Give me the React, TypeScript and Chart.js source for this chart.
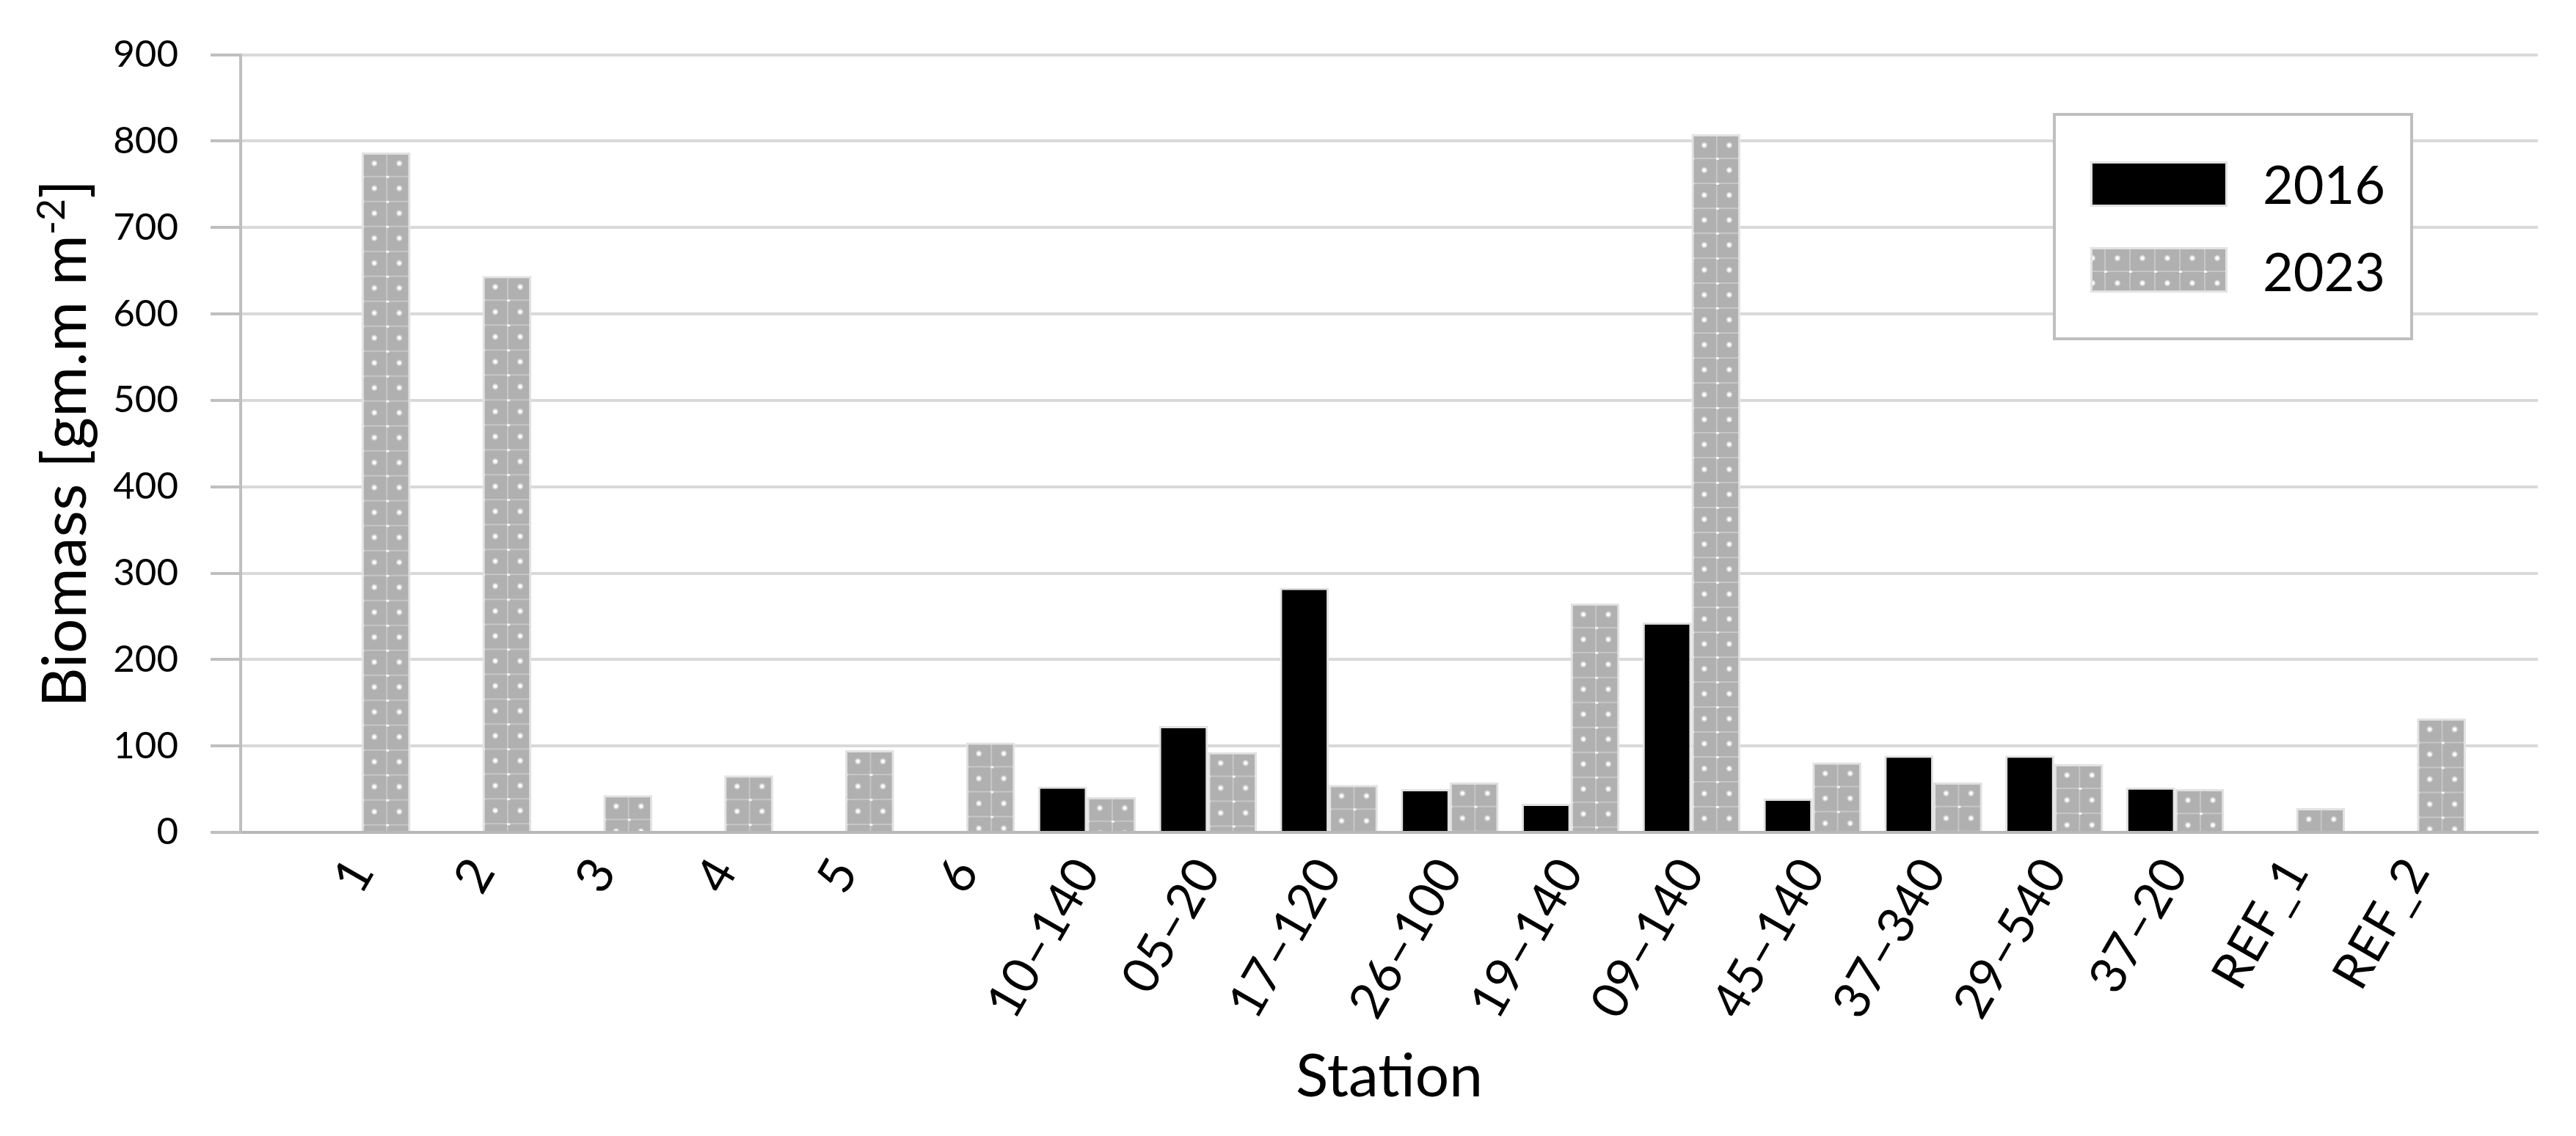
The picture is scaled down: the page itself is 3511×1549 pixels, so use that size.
import React, { useEffect, useRef } from 'react';
import { Chart, registerables } from 'chart.js';

Chart.register(...registerables);

// ---- data ----
const categories = ['', '1', '2', '3', '4', '5', '6', '10–140', '05–20', '17–120', '26–100', '19–140', '09–140', '45–140', '37–340', '29–540', '37–20', 'REF_1', 'REF_2', ''];
const biomass2016 = [null, 0, 0, 0, 0, 0, 0, 53, 123, 283, 50, 33, 243, 39, 89, 89, 52, 0, 0, null];
const biomass2023 = [null, 787, 644, 43, 66, 95, 104, 41, 93, 55, 58, 265, 808, 81, 58, 79, 50, 28, 132, null];
const seriesLabels = ['2016', '2023'];
const yMin = 0;
const yMax = 900;
const yStep = 100;
const xTitle = 'Station';
const yTitleMain = 'Biomass [gm.m m';
const yTitleSup = '-2';
const yTitleEnd = ']';

// ---- style ----
const FONT = 'Lato, "Open Sans", sans-serif';
const CAT_PCT = 0.81;
const GRAY = '#b0b0b0';
const RIM = '#e2e2e2';
const TILE = 34;

function makeTile(): HTMLCanvasElement {
  const s = TILE;
  const c = document.createElement('canvas');
  c.width = s;
  c.height = s;
  const g = c.getContext('2d')!;
  g.fillStyle = GRAY;
  g.fillRect(0, 0, s, s);
  g.fillStyle = '#c6c6c6';
  g.fillRect(0, 0, s, 2);
  g.fillRect(0, 0, 2, s);
  g.fillStyle = '#d0d0d0';
  g.beginPath();
  g.arc(s / 2 + 1, s / 2, 4.2, 0, Math.PI * 2);
  g.fill();
  g.fillStyle = '#ffffff';
  g.beginPath();
  g.arc(s / 2 + 1, s / 2, 2.5, 0, Math.PI * 2);
  g.fill();
  g.fillStyle = '#f4f4f4';
  g.fillRect(0, 0, 4, 3);
  return c;
}

export default function App() {
  const ref = useRef<HTMLCanvasElement>(null);

  useEffect(() => {
    document.body.style.margin = '0';
    document.body.style.overflow = 'hidden';
    const canvas = ref.current!;
    const tile = makeTile();

    const pattern = (c2d: CanvasRenderingContext2D, tx: number, ty: number) => {
      const p = c2d.createPattern(tile, 'repeat')!;
      p.setTransform(new DOMMatrix([1, 0, 0, 1, tx, ty]));
      return p;
    };

    const patternFill = (ctx: any) => {
      if (ctx.type !== 'data' || ctx.raw == null) return GRAY;
      const chart = ctx.chart;
      const xs = chart.scales.x;
      const ys = chart.scales.y;
      if (!xs || !ys) return GRAY;
      const cw = xs.getPixelForValue(1) - xs.getPixelForValue(0);
      const bw = (cw * CAT_PCT) / 2;
      const cx = xs.getPixelForValue(ctx.dataIndex) + bw / 2;
      const top = ys.getPixelForValue(ctx.raw);
      return pattern(chart.ctx, cx, top - 2);
    };

    const overlay = {
      id: 'overlay',
      afterDraw(chart: any) {
        const c: CanvasRenderingContext2D = chart.ctx;
        const area = chart.chartArea;
        c.save();
        // legend box
        const lx = 2800, ly = 156, lw = 487, lh = 306;
        c.fillStyle = '#ffffff';
        c.fillRect(lx, ly, lw, lh);
        c.strokeStyle = '#bfbfbf';
        c.lineWidth = 4;
        c.strokeRect(lx, ly, lw, lh);
        const sx = 2851, sw = 183, sh = 58;
        const rows = [222, 339];
        // swatch 2016
        c.fillStyle = RIM;
        c.fillRect(sx - 2, rows[0] - 2, sw + 4, sh + 4);
        c.fillStyle = '#000000';
        c.fillRect(sx + 1, rows[0] + 1, sw - 2, sh - 2);
        // swatch 2023
        c.fillStyle = RIM;
        c.fillRect(sx - 2, rows[1] - 2, sw + 4, sh + 4);
        c.fillStyle = pattern(c, sx + 17, rows[1] - 4);
        c.fillRect(sx + 1, rows[1] + 1, sw - 2, sh - 2);
        c.fillStyle = '#000000';
        c.font = `72px ${FONT}`;
        c.textAlign = 'left';
        c.textBaseline = 'alphabetic';
        c.fillText(chart.data.datasets[0].label, 3084, 278);
        c.fillText(chart.data.datasets[1].label, 3084, 397);

        // x title
        c.font = `82px ${FONT}`;
        c.textAlign = 'center';
        c.fillText(xTitle, (area.left + area.right) / 2, 1495);

        // y title with superscript
        const mainFont = `84px ${FONT}`;
        const supFont = `52px ${FONT}`;
        c.font = mainFont;
        const w1 = c.measureText(yTitleMain).width;
        const w3 = c.measureText(yTitleEnd).width;
        c.font = supFont;
        const w2 = c.measureText(yTitleSup).width;
        const total = w1 + w2 + w3;
        c.translate(117, (area.top + area.bottom) / 2);
        c.rotate(-Math.PI / 2);
        c.textAlign = 'left';
        let px = -total / 2;
        c.font = mainFont;
        c.fillText(yTitleMain, px, 0);
        px += w1;
        c.font = supFont;
        c.fillText(yTitleSup, px, -29);
        px += w2;
        c.font = mainFont;
        c.fillText(yTitleEnd, px, 0);
        c.restore();
      },
    };

    const chart = new Chart(canvas, {
      type: 'bar',
      data: {
        labels: categories,
        datasets: [
          {
            label: seriesLabels[0],
            data: biomass2016,
            backgroundColor: '#000000',
            borderColor: RIM,
            borderWidth: 3,
            categoryPercentage: CAT_PCT,
            barPercentage: 1,
          },
          {
            label: seriesLabels[1],
            data: biomass2023,
            backgroundColor: patternFill,
            borderColor: RIM,
            borderWidth: 3,
            categoryPercentage: CAT_PCT,
            barPercentage: 1,
          },
        ],
      },
      options: {
        animation: false,
        responsive: true,
        maintainAspectRatio: false,
        devicePixelRatio: 1,
        layout: { padding: { left: 0, right: 52, top: 73, bottom: 0 } },
        plugins: {
          legend: { display: false },
          tooltip: { enabled: false },
          title: { display: false },
        },
        scales: {
          x: {
            type: 'category',
            offset: false,
            grid: { display: false, drawTicks: false },
            border: { display: true, color: '#b8b8b8', width: 4 },
            ticks: {
              autoSkip: false,
              maxRotation: 60,
              minRotation: 60,
              padding: 22,
              color: '#000000',
              font: { family: FONT, size: 68 },
            },
            afterFit: (scale: any) => {
              scale.height = 414;
              scale.paddingLeft = 0;
              scale.paddingRight = 0;
            },
          },
          y: {
            min: yMin,
            max: yMax,
            ticks: {
              stepSize: yStep,
              padding: 44,
              color: '#000000',
              font: { family: FONT, size: 51 },
            },
            grid: {
              color: (ctx: any) => (ctx.tick && ctx.tick.value === 0 ? '#b8b8b8' : '#d9d9d9'),
              lineWidth: 4,
              tickLength: 41,
              tickColor: '#bfbfbf',
            },
            border: { display: true, color: '#bfbfbf', width: 4 },
            afterFit: (scale: any) => {
              scale.width = 328;
            },
          },
        },
      },
      plugins: [overlay],
    });

    return () => {
      chart.destroy();
    };
  }, []);

  return (
    <div style={{ position: 'relative', width: '3511px', height: '1549px' }}>
      <canvas ref={ref} style={{ display: 'block' }} />
    </div>
  );
}
